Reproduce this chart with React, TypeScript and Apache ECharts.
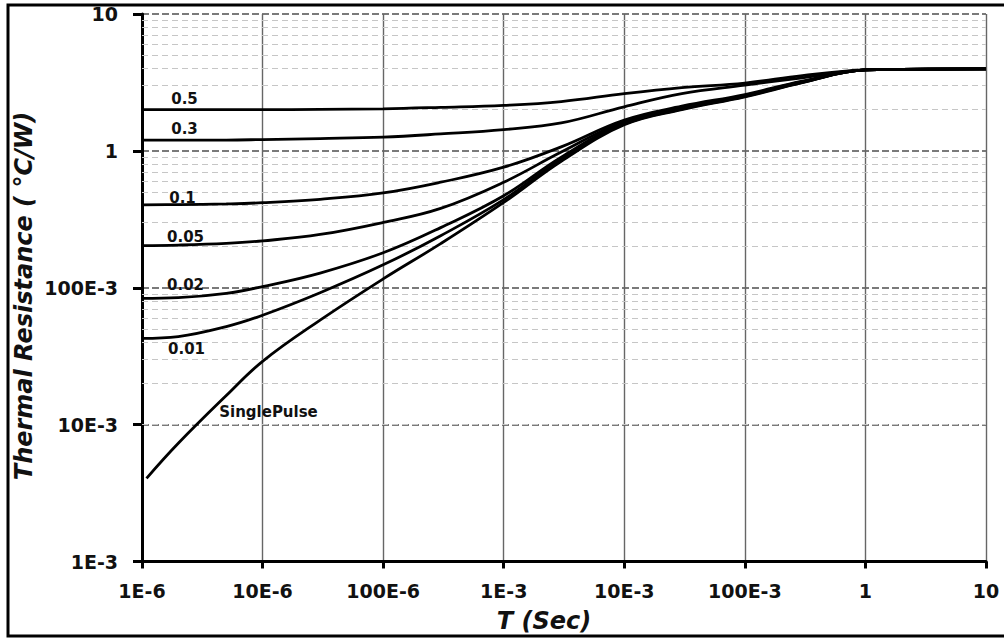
import React, { useEffect, useRef } from "react";
import * as echarts from "echarts";

// Pulse duration (s) sample points
const timeT = [1e-6, 2e-6, 5e-6, 1e-5, 3e-5, 1e-4, 3e-4, 1e-3, 3e-3, 1e-2, 3e-2, 0.1, 0.3, 1, 2, 10];
const singleT = [1.09e-6, 2e-6, 5e-6, 1e-5, 3e-5, 1e-4, 3e-4, 1e-3, 3e-3, 1e-2, 3e-2, 0.1, 0.3, 1, 2, 10];

// Thermal resistance (°C/W) per duty cycle
const duty05 = [2.0, 2.0, 2.0, 2.0, 2.01, 2.03, 2.08, 2.15, 2.29, 2.62, 2.9, 3.13, 3.55, 3.9, 3.94, 3.97];
const duty03 = [1.2, 1.2, 1.2, 1.21, 1.23, 1.26, 1.33, 1.43, 1.6, 2.1, 2.62, 3.02, 3.42, 3.9, 3.94, 3.97];
const duty01 = [0.403, 0.405, 0.41, 0.418, 0.443, 0.493, 0.59, 0.76, 1.07, 1.68, 2.12, 2.58, 3.23, 3.9, 3.94, 3.97];
const duty005 = [0.203, 0.205, 0.211, 0.22, 0.245, 0.3, 0.38, 0.59, 0.98, 1.64, 2.07, 2.54, 3.2, 3.9, 3.94, 3.97];
const duty002 = [0.0837, 0.0847, 0.091, 0.102, 0.128, 0.18, 0.275, 0.47, 0.9, 1.6, 2.04, 2.52, 3.18, 3.9, 3.94, 3.97];
const duty001 = [0.0427, 0.044, 0.052, 0.063, 0.092, 0.147, 0.24, 0.44, 0.87, 1.57, 2.02, 2.5, 3.17, 3.9, 3.94, 3.97];
const singlePulse = [0.00405, 0.0073, 0.0163, 0.029, 0.058, 0.116, 0.21, 0.42, 0.84, 1.55, 2.0, 2.48, 3.15, 3.9, 3.94, 3.97];

const seriesNames = ["0.5", "0.3", "0.1", "0.05", "0.02", "0.01", "SinglePulse"];

const xTickLabels = ["1E-6", "10E-6", "100E-6", "1E-3", "10E-3", "100E-3", "1", "10"];
const yTickLabels = ["1E-3", "10E-3", "100E-3", "1", "10"];
const xMinExp = -6;
const yMinExp = -3;

// minor grid multipliers within each decade
const minorMultipliers = [2, 3, 4, 5, 6, 7, 8, 9];
const minorDecades = [-3, -2, -1, 0];

const FONT = '"DejaVu Sans", "Liberation Sans", sans-serif';

export default function App() {
  const ref = useRef<HTMLDivElement>(null);

  useEffect(() => {
    if (!ref.current) return;
    const chart = echarts.init(ref.current, null, { renderer: "svg" });

    const curveSets = [
      { t: timeT, v: duty05 },
      { t: timeT, v: duty03 },
      { t: timeT, v: duty01 },
      { t: timeT, v: duty005 },
      { t: timeT, v: duty002 },
      { t: timeT, v: duty001 },
      { t: singleT, v: singlePulse },
    ];

    const minorLines: any[] = [];
    minorDecades.forEach((d) => {
      minorMultipliers.forEach((m) => {
        minorLines.push({ yAxis: Number(m + "e" + d) });
      });
    });

    const curveSeries = curveSets.map((c, i) => ({
      name: seriesNames[i],
      type: "line",
      data: c.t.map((t, j) => [t, c.v[j]]),
      showSymbol: false,
      symbol: "none",
      smooth: 0.4,
      z: 5,
      lineStyle: { color: "#000", width: 2.8 },
      silent: true,
    }));

    const labelPos = [
      [184.5, 98.5],
      [184.5, 129],
      [182.5, 197.5],
      [185.5, 237],
      [185.5, 284.5],
      [186.5, 349],
      [268.5, 411.5],
    ];

    const textStyle = (text: string, size: number, italic = false) => ({
      text,
      font: `${italic ? "italic " : ""}bold ${size}px ${FONT}`,
      fill: "#111",
      align: "center",
      verticalAlign: "middle",
      textAlign: "center",
      textVerticalAlign: "middle",
    });

    const option: any = {
      animation: false,
      backgroundColor: "#fff",
      grid: { left: 142, right: 18, top: 14, bottom: 79.5, containLabel: false },
      xAxis: {
        type: "log",
        logBase: 10,
        min: 1e-6,
        max: 10,
        splitNumber: 10,
        axisLine: { show: true, onZero: false, lineStyle: { color: "#000", width: 3 } },
        axisTick: { show: true, length: 7, lineStyle: { color: "#000", width: 3 } },
        axisLabel: {
          margin: 20,
          fontFamily: FONT,
          fontWeight: "bold",
          fontSize: 19,
          color: "#111",
          formatter: (v: number) => xTickLabels[Math.round(Math.log10(v)) - xMinExp] ?? "",
        },
        splitLine: { show: true, lineStyle: { color: "#666", width: 1.4, type: "solid" } },
      },
      yAxis: {
        type: "log",
        logBase: 10,
        min: 1e-3,
        max: 10,
        splitNumber: 10,
        axisLine: { show: true, onZero: false, lineStyle: { color: "#000", width: 3 } },
        axisTick: { show: true, length: 9, lineStyle: { color: "#000", width: 3 } },
        axisLabel: {
          margin: 24,
          fontFamily: FONT,
          fontWeight: "bold",
          fontSize: 19,
          color: "#111",
          formatter: (v: number) => yTickLabels[Math.round(Math.log10(v)) - yMinExp] ?? "",
        },
        splitLine: { show: true, lineStyle: { color: "#7a7a7a", width: 1.8, type: [7, 3] } },
      },
      series: [
        {
          type: "line",
          data: [],
          silent: true,
          z: 1,
          markLine: {
            silent: true,
            symbol: ["none", "none"],
            label: { show: false },
            lineStyle: { color: "#c6c6c6", width: 1, type: [6, 4] },
            emphasis: { disabled: true },
            data: minorLines,
          },
        },
        ...curveSeries,
      ],
      graphic: [
        {
          type: "rect",
          shape: { x: 8, y: 5, width: 1010, height: 631 },
          style: { fill: "none", stroke: "#000", lineWidth: 3 },
          silent: true,
          z: 100,
        },
        {
          type: "text",
          x: 24,
          y: 296,
          rotation: Math.PI / 2,
          style: textStyle("Thermal Resistance ( °C/W)", 24, true),
          z: 100,
        },
        {
          type: "text",
          x: 544,
          y: 621,
          style: textStyle("T (Sec)", 24, true),
          z: 100,
        },
        ...seriesNames.map((n, i) => ({
          type: "text",
          x: labelPos[i][0],
          y: labelPos[i][1],
          style: textStyle(n, 15),
          z: 100,
        })),
      ],
    };

    chart.setOption(option);
    return () => chart.dispose();
  }, []);

  return (
    <div
      ref={ref}
      style={{ position: "absolute", left: 0, top: 0, width: 1004, height: 641 }}
    />
  );
}
